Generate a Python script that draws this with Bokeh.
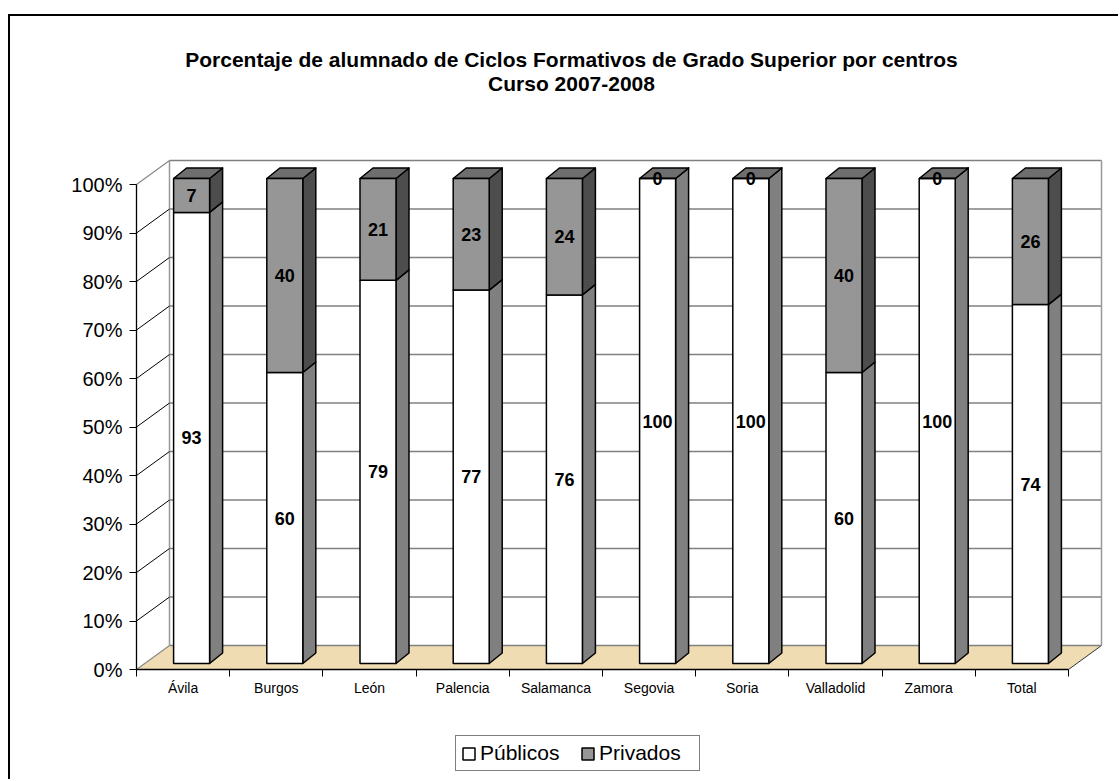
from bokeh.plotting import figure
from bokeh.models import Range1d, FixedTicker, LinearAxis, Label, Legend, LegendItem
from bokeh.core.properties import value
from bokeh.embed import file_html
from bokeh.resources import INLINE

# ---------------- data ----------------
categories = ["Ávila", "Burgos", "León", "Palencia", "Salamanca",
              "Segovia", "Soria", "Valladolid", "Zamora", "Total"]
publicos = [93, 60, 79, 77, 76, 100, 100, 60, 100, 74]
privados = [7, 40, 21, 23, 24, 0, 0, 40, 0, 26]
series_names = ["Públicos", "Privados"]
y_ticks = [0, 10, 20, 30, 40, 50, 60, 70, 80, 90, 100]
y_tick_labels = ["0%", "10%", "20%", "30%", "40%", "50%",
                 "60%", "70%", "80%", "90%", "100%"]
title_lines = ["Porcentaje de alumnado de Ciclos Formativos de Grado Superior por centros",
               "Curso 2007-2008"]

# ---------------- layout (page pixels) ----------------
W, H = 1118, 779
AX_X, AX_Y = 136, 669          # page position of the front 0% / first-category corner
PX_PER_CAT = 93.2
PX_PER_PCT = 4.85
FONT = "Liberation Sans"

n = len(categories)


def dx(px):
    return px / PX_PER_CAT


def dy(px):
    return px / PX_PER_PCT


def X(px):  # page x -> data x
    return (px - AX_X) / PX_PER_CAT


def Y(py):  # page y -> data y
    return (AX_Y - py) / PX_PER_PCT


WALL_DX, WALL_DY = dx(33), dy(24)
BAR_DX, BAR_DY = dx(8.5), dy(6)
HALF_W = dx(18)
DEP_DX, DEP_DY = dx(13), dy(10.5)

p = figure(width=W, height=H, x_range=Range1d(X(0), X(W)), y_range=Range1d(Y(H), Y(0)),
           output_backend="svg", toolbar_location=None, title=None,
           x_axis_type=None, y_axis_type=None, min_border=0)
p.xgrid.visible = False
p.ygrid.visible = False
p.outline_line_color = None
p.border_fill_color = None
p.background_fill_color = None
p.styles = {"background": "linear-gradient(#000,#000) 8px 14px / 100% 2px no-repeat, "
                          "linear-gradient(#000,#000) 8px 14px / 2px 100% no-repeat"}

# ---------------- floor ----------------
p.patch([0, n, n + WALL_DX, WALL_DX], [0, 0, WALL_DY, WALL_DY],
        fill_color="#F0DCB2", line_color=None)
p.segment(x0=[n], y0=[0], x1=[n + WALL_DX], y1=[WALL_DY], line_color="#333333", line_width=1)

# ---------------- back wall ----------------
p.segment(x0=[WALL_DX] * len(y_ticks), y0=[t + WALL_DY for t in y_ticks],
          x1=[n + WALL_DX] * len(y_ticks), y1=[t + WALL_DY for t in y_ticks],
          line_color="#808080", line_width=1.3)
p.segment(x0=[WALL_DX, n + WALL_DX], y0=[WALL_DY, WALL_DY],
          x1=[WALL_DX, n + WALL_DX], y1=[y_ticks[-1] + WALL_DY] * 2,
          line_color="#999999", line_width=1.5)
# side wall diagonals
inner = y_ticks[1:-1]
p.segment(x0=[0] * len(inner), y0=inner, x1=[WALL_DX] * len(inner),
          y1=[t + WALL_DY for t in inner], line_color="black", line_width=1)
p.segment(x0=[0, 0], y0=[y_ticks[0], y_ticks[-1]], x1=[WALL_DX, WALL_DX],
          y1=[y_ticks[0] + WALL_DY, y_ticks[-1] + WALL_DY], line_color="#8a8a8a", line_width=1.3)

# ---------------- bars ----------------
centers = [i + 0.5 + BAR_DX for i in range(n)]
lefts = [c - HALF_W for c in centers]
rights = [c + HALF_W for c in centers]
pub_b = [BAR_DY] * n
pub_t = [v + BAR_DY for v in publicos]
pri_b = pub_t
pri_t = [a + b + BAR_DY for a, b in zip(publicos, privados)]


def side_faces(bottoms, tops):
    xs, ys = [], []
    for r, b, t in zip(rights, bottoms, tops):
        xs.append([r, r + DEP_DX, r + DEP_DX, r])
        ys.append([b, b + DEP_DY, t + DEP_DY, t])
    return xs, ys


sx, sy = side_faces(pub_b, pub_t)
p.patches(sx, sy, fill_color="#808080", line_color="black", line_width=1.5, line_join="round")
sx, sy = side_faces(pri_b, pri_t)
p.patches(sx, sy, fill_color="#4D4D4D", line_color="black", line_width=1.5, line_join="round")

tx, ty = [], []
for l, r, t in zip(lefts, rights, pri_t):
    tx.append([l, l + DEP_DX, r + DEP_DX, r])
    ty.append([t, t + DEP_DY, t + DEP_DY, t])
p.patches(tx, ty, fill_color="#6E6E6E", line_color="black", line_width=1.5, line_join="round")

r_pub = p.quad(left=lefts, right=rights, bottom=pub_b, top=pub_t,
               fill_color="white", line_color="black", line_width=1.5)
r_pri = p.quad(left=lefts, right=rights, bottom=pri_b, top=pri_t,
               fill_color="#969696", line_color="black", line_width=1.5)

# value labels
p.text(x=centers, y=[v / 2 + BAR_DY for v in publicos], text=[str(v) for v in publicos],
       text_align="center", text_baseline="middle", text_font=value(FONT),
       text_font_style="bold", text_font_size="18px", text_color="black")
p.text(x=centers, y=[a + b / 2 + BAR_DY for a, b in zip(publicos, privados)],
       text=[str(v) for v in privados],
       text_align="center", text_baseline="middle", text_font=value(FONT),
       text_font_style="bold", text_font_size="18px", text_color="black")

# ---------------- axes ----------------
yaxis = LinearAxis(ticker=FixedTicker(ticks=y_ticks),
                   major_label_overrides={t: l for t, l in zip(y_ticks, y_tick_labels)},
                   bounds=(y_ticks[0], y_ticks[-1]), fixed_location=0,
                   major_tick_out=7, major_tick_in=0, minor_tick_out=0, minor_tick_in=0,
                   major_label_standoff=7,
                   major_label_text_font=FONT, major_label_text_font_size="20px",
                   major_label_text_color="black",
                   axis_line_color="black", axis_line_width=1.3,
                   major_tick_line_color="black")
p.add_layout(yaxis, "left")

xaxis = LinearAxis(ticker=FixedTicker(ticks=[i + 0.5 for i in range(n)],
                                      minor_ticks=list(range(n + 1))),
                   major_label_overrides={i + 0.5: c for i, c in enumerate(categories)},
                   bounds=(0, n), fixed_location=0,
                   major_tick_out=0, major_tick_in=0, minor_tick_out=7, minor_tick_in=0,
                   minor_tick_line_color="black", major_label_standoff=3,
                   major_label_text_font=FONT, major_label_text_font_size="14px",
                   major_label_text_color="black",
                   axis_line_color="black", axis_line_width=1.3)
p.add_layout(xaxis, "below")

# ---------------- title ----------------
for line, base in zip(title_lines, [59, 83]):
    p.add_layout(Label(x=X(571), y=Y(base), text=line, text_align="center",
                       text_baseline="alphabetic", text_font=FONT, text_font_style="bold",
                       text_font_size="21px", text_color="black"))

# ---------------- legend ----------------
legend = Legend(items=[LegendItem(label=series_names[0], renderers=[r_pub]),
                       LegendItem(label=series_names[1], renderers=[r_pri])],
                orientation="horizontal", location=(455, H - 771),
                border_line_color="black", border_line_width=1,
                background_fill_color="white", background_fill_alpha=1,
                label_text_font=FONT, label_text_font_size="21px", label_text_color="black",
                glyph_width=15, glyph_height=15, label_standoff=4, spacing=5,
                label_width=95, label_height=20, padding=5, margin=0)
p.add_layout(legend)

open("out.html", "w").write(file_html(p, INLINE))
